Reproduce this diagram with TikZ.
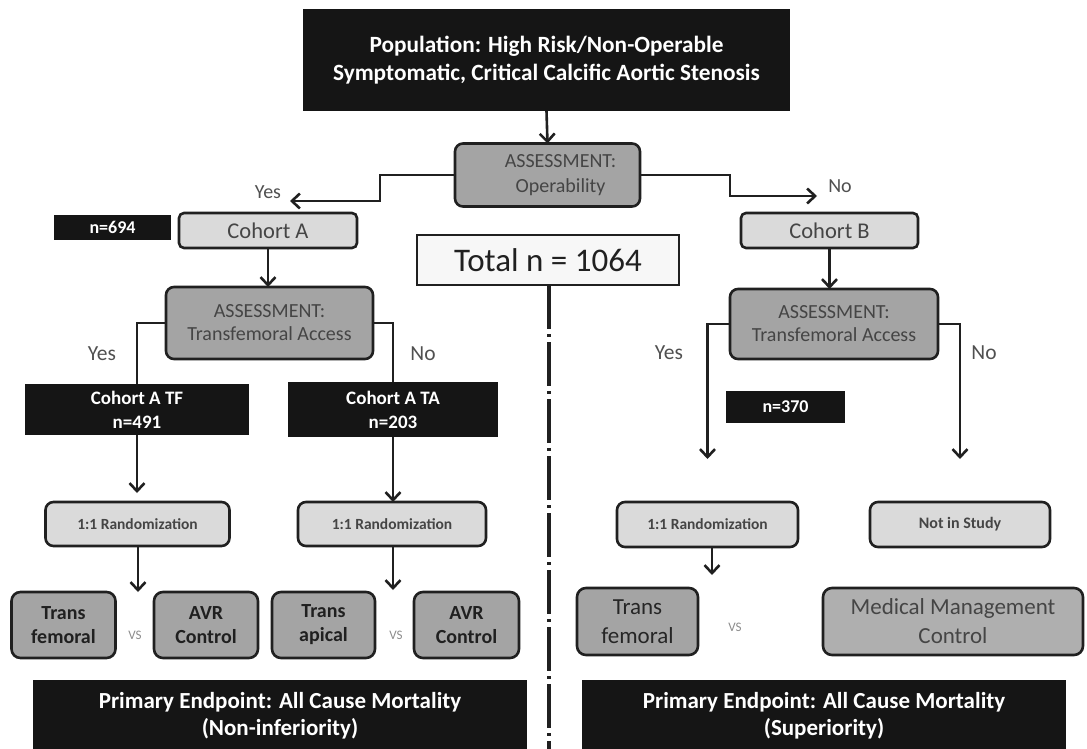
\documentclass[tikz,border=0pt]{standalone}
\usepackage{fontspec}
\setmainfont{Carlito}
\usetikzlibrary{arrows.meta}
\definecolor{boxdark}{HTML}{A4A4A4}
\definecolor{boxlight}{HTML}{DADADA}
\definecolor{edge}{HTML}{202020}
\definecolor{blk}{HTML}{151515}
\definecolor{txtg}{HTML}{454545}
\definecolor{lblg}{HTML}{505050}
\newcommand{\fs}[2]{\fontsize{#1}{#2}\selectfont}
\tikzset{
  every node/.style={inner sep=0pt, outer sep=0pt, align=center},
  blackbox/.style={fill=blk, text=white, font=\bfseries},
  assess/.style={draw=edge, line width=2.6pt, fill=boxdark, rounded corners=8pt, text=txtg},
  lightbox/.style={draw=edge, line width=2.6pt, fill=boxlight, rounded corners=7pt, text=txtg},
  armbox/.style={draw=edge, line width=2.6pt, fill=boxdark, rounded corners=9pt, text=edge, font=\bfseries\fs{20}{24}},
  conn/.style={draw=edge, line width=2.6pt},
  arr/.style={conn, -{Straight Barb[length=8pt,width=15pt,line width=2.6pt]}},
  lbl/.style={text=lblg},
  vs/.style={text=gray!90, font=\fs{13}{15}},
}
\begin{document}
\begin{tikzpicture}[x=1pt,y=-1pt]
\useasboundingbox (0,0) rectangle (1087,749);
\fill[white] (0,0) rectangle (1087,749);

% top
\node[blackbox, minimum width=487pt, minimum height=102pt, font=\bfseries\fs{23.3}{28}] (top) at (546.5,60)
  {Population: High Risk/Non-Operable\\Symptomatic, Critical Calcific Aortic Stenosis};
\node[assess, minimum width=185pt, minimum height=63pt, font=\fs{20}{25}] (ops) at (547.5,175)
  {\hspace*{26pt}ASSESSMENT:\\\hspace*{26pt}Operability};
\draw[arr] (top.south) -- (ops.north);

\coordinate (yesend) at (290,201);
\coordinate (noend) at (817,196);
\draw[arr] (ops.west) -- (380,175) |- (yesend);
\draw[arr] (ops.east) -- (730,175) |- (noend);
\node[lbl, font=\fs{20}{24}] (yes0) at (268,192) {Yes};
\node[lbl, font=\fs{20}{24}] (no0) at (840,186) {No};

\node[blackbox, minimum width=117pt, minimum height=25pt, font=\bfseries\fs{18}{21}] (n694) at (112.5,227.5) {n=694};
\node[lightbox, minimum width=178pt, minimum height=35pt, rounded corners=5pt, font=\fs{22.5}{26}] (ca) at (268,230.5) {Cohort A};
\node[lightbox, minimum width=177pt, minimum height=35pt, rounded corners=5pt, font=\fs{22.5}{26}] (cb) at (829.5,230.5) {Cohort B};
\node[draw=edge, line width=2.8pt, fill=black!3, minimum width=262pt, minimum height=50pt, text=edge, font=\fs{33}{38}] (total) at (548,260) {Total n = 1064};

% dash-dot divider
\coordinate (divend) at (549,749);
\draw[edge, line width=3.5pt, dash pattern=on 44pt off 5pt on 3pt off 5pt] (total.south -| divend) -- (divend);

% left branch
\node[assess, minimum width=207pt, minimum height=72pt, font=\fs{20}{23}] (opsL) at (269.5,323) {ASSESSMENT:\\Transfemoral Access};
\draw[arr] (ca.south) -- (ca.south |- opsL.north);
\node[blackbox, minimum width=224pt, minimum height=51pt, font=\bfseries\fs{19}{24}] (tf) at (137,409.5) {Cohort A TF\\n=491};
\node[blackbox, minimum width=210pt, minimum height=55pt, font=\bfseries\fs{19}{24}] (ta) at (393,409.5) {Cohort A TA\\n=203};
\draw[conn] (opsL.west) -| (tf.north);
\draw[conn] (opsL.east) -| (ta.north);
\node[lbl, font=\fs{21.5}{26}] (yesL) at (102,354) {Yes};
\node[lbl, font=\fs{21.5}{26}] (noL) at (423,354) {No};

\node[lightbox, minimum width=184pt, minimum height=44pt, rounded corners=8pt, font=\bfseries\fs{15.5}{18}] (randL) at (137.5,524) {1:1 Randomization};
\node[lightbox, minimum width=188pt, minimum height=44pt, rounded corners=8pt, font=\bfseries\fs{15.5}{18}] (randR) at (392,524) {1:1 Randomization};
\draw[arr, shorten >=9pt] (tf.south) -- (tf.south |- randL.north);
\draw[arr] (ta.south) -- (ta.south |- randR.north);

\node[armbox, minimum width=104pt, minimum height=66pt] (tfem) at (63.5,625) {Trans\\femoral};
\node[armbox, minimum width=104pt, minimum height=66pt] (avr1) at (206,625) {AVR\\Control};
\node[armbox, minimum width=103pt, minimum height=66pt] (tap) at (323.5,625) {Trans\\apical};
\node[armbox, minimum width=105pt, minimum height=66pt] (avr2) at (466.5,625) {AVR\\Control};
\coordinate (tipL) at (138,592);
\coordinate (tipR) at (393,590);
\draw[arr] (randL.south -| tipL) -- (tipL);
\draw[arr] (randR.south -| tipR) -- (tipR);
\node[vs] (vs1) at (135,635) {VS};
\node[vs] (vs2) at (396,635) {VS};

\node[blackbox, minimum width=494pt, minimum height=72pt, font=\bfseries\fs{23}{27}] (endL) at (280,716)
  {Primary Endpoint: All Cause Mortality\\(Non-inferiority)};

% right branch
\node[assess, minimum width=208pt, minimum height=70pt, font=\fs{20}{23}] (opsR) at (834,324) {ASSESSMENT:\\Transfemoral Access};
\draw[arr] (cb.south) -- (cb.south |- opsR.north);
\node[lbl, font=\fs{21.5}{26}] (yesR) at (669,353) {Yes};
\node[lbl, font=\fs{21.5}{26}] (noR) at (984,353) {No};
\node[blackbox, minimum width=119pt, minimum height=32pt, font=\bfseries\fs{18}{21}] (n370) at (785.5,407) {n=370};

\node[lightbox, minimum width=181pt, minimum height=45pt, rounded corners=8pt, font=\bfseries\fs{15.5}{18}] (randB) at (707.5,524.5) {1:1 Randomization};
\node[lightbox, minimum width=180pt, minimum height=45pt, rounded corners=8pt, font=\bfseries\fs{16}{18}] (notin) at (960,524.5) {Not in Study};
\draw[arr, shorten >=43pt] (opsR.west) -| (randB.north);
\draw[arr, shorten >=43pt] (opsR.east) -| (notin.north);

\node[armbox, minimum width=121pt, minimum height=67pt, font=\fs{23}{29}, text=black!85] (tfemB) at (637.5,621.5) {Trans\\femoral};
\node[armbox, minimum width=260pt, minimum height=67pt, fill=boxdark!88!white, font=\fs{23}{29}, text=txtg] (mm) at (953,621.5) {Medical Management\\Control};
\coordinate (tipB) at (712,575);
\draw[arr] (randB.south -| tipB) -- (tipB);
\node[vs] (vs3) at (735,627) {VS};

\node[blackbox, minimum width=484pt, minimum height=72pt, font=\bfseries\fs{23}{27}] (endR) at (824,716)
  {Primary Endpoint: All Cause Mortality\\(Superiority)};
\end{tikzpicture}
\end{document}
